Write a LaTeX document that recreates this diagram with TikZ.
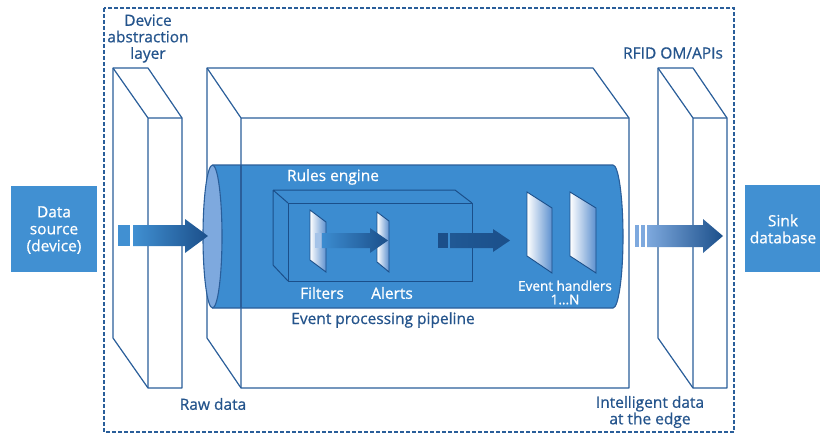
\documentclass[tikz,border=0pt]{standalone}
\usepackage{fontspec}
\setmainfont{Open Sans}[FakeBold=0.7]
\usetikzlibrary{shapes.geometric}
\definecolor{navy}{HTML}{24548C}
\definecolor{edge}{HTML}{2A5E9A}
\definecolor{boxblue}{HTML}{4190D2}
\definecolor{cylblue}{HTML}{3C8CD0}
\definecolor{ellblue}{HTML}{7EA9DE}
\definecolor{darkarrow}{HTML}{1B4F8A}
\definecolor{panelblue}{HTML}{5C90CF}
\tikzset{
  slab/.style={draw=edge, line width=1.2pt, fill=white, line join=round},
  lbl/.style={text=navy, font=\fontsize{15.5}{16.5}\selectfont, align=center, inner sep=0pt},
  wlbl/.style={text=white, font=\fontsize{15.5}{17}\selectfont, align=center, inner sep=0pt},
  slbl/.style={text=white, font=\fontsize{13.5}{13.5}\selectfont, align=center, inner sep=0pt},
  bluebox/.style={fill=boxblue, draw=none},
  panel/.style={draw=darkarrow, line width=0.9pt, left color=white, right color=panelblue},
}
\begin{document}
\begin{tikzpicture}[x=1pt,y=-1pt]
\useasboundingbox (0,0) rectangle (820,434);
% dashed frame
\draw[edge, line width=1.6pt, dash pattern=on 4pt off 2pt] (104,8) rectangle (734,432);
% left slab
\draw[slab] (113,68) -- (148,68) -- (182,118) -- (182,388) -- (148,388) -- (113,338) -- cycle;
\draw[edge, line width=1.2pt] (113,68) -- (148,118) -- (182,118) (148,118) -- (148,388);
% big box
\draw[slab] (207,68) -- (593,68) -- (629,118) -- (629,388) -- (241,388) -- (207,338) -- cycle;
\draw[edge, line width=1.2pt] (207,68) -- (241,118) -- (629,118) (241,118) -- (241,388);
% right slab
\draw[slab] (658,68) -- (693,68) -- (727,118) -- (727,388) -- (693,388) -- (658,338) -- cycle;
\draw[edge, line width=1.2pt] (658,68) -- (693,118) -- (727,118) (693,118) -- (693,388);
% cylinder
\fill[cylblue] (212.5,165) -- (613,165) .. controls (618.5,165) and (623,197) .. (623,236.5) .. controls (623,276) and (618.5,308) .. (613,308) -- (212.5,308) -- cycle;
\draw[edge, line width=1.1pt] (212.5,165) -- (613,165) .. controls (618.5,165) and (623,197) .. (623,236.5) .. controls (623,276) and (618.5,308) .. (613,308) -- (212.5,308);
\draw[edge, line width=1.1pt] (241,165) -- (241,308);
\node[ellipse, draw=edge, line width=1.1pt, fill=ellblue, minimum width=19pt, minimum height=143pt, inner sep=0pt] (ell) at (212.5,236.5) {};
% rules engine box
\draw[darkarrow, line width=1pt, line join=round] (273,190) -- (455,190) -- (472,203) (273,190) -- (273,265) -- (288,281) (273,190) -- (288,203);
\draw[darkarrow, line width=1pt] (288,203) rectangle (472,281);
% filters and alerts panels
\draw[panel] (310,210) -- (326,222) -- (326,272) -- (310,260) -- cycle;
\draw[panel] (377,212) -- (389,221) -- (389,272) -- (377,262) -- cycle;
\fill[ellblue!70!white] (315,233) rectangle (321,248);
\shade[left color=cylblue, right color=darkarrow] (322,233) -- (370,233) -- (370,228) -- (388,240.5) -- (370,253) -- (370,248) -- (322,248) -- cycle;
% middle arrow
\fill[darkarrow] (438,233) rectangle (448,248);
\shade[left color=darkarrow!85!cylblue, right color=darkarrow] (450,233) -- (493,233) -- (493,229) -- (510,240.5) -- (493,252) -- (493,248) -- (450,248) -- cycle;
% event handler panels
\draw[panel] (527,192) -- (552,208) -- (552,273) -- (527,256) -- cycle;
\draw[panel] (570,192) -- (596,208) -- (596,273) -- (570,256) -- cycle;
% left arrow
\fill[boxblue] (118,225) rectangle (130,246);
\shade[left color=boxblue, right color=darkarrow] (133,225) -- (185,225) -- (185,219) -- (208,236) -- (185,253) -- (185,246) -- (133,246) -- cycle;
% right arrow
\fill[ellblue] (635,225) rectangle (639,247);
\fill[ellblue] (641,225) rectangle (645,247);
\shade[left color=ellblue, right color=darkarrow] (647,225) -- (703,225) -- (703,219) -- (723,236) -- (703,253) -- (703,247) -- (647,247) -- cycle;
% external boxes
\fill[bluebox] (11,186) rectangle (97,272);
\fill[bluebox] (745,185) rectangle (822,272);
% labels
\node[wlbl] (src) at (54,230) {Data\\source\\(device)};
\node[wlbl] (sink) at (783,229) {Sink\\database};
\node[lbl] (dal) at (148,38.5) {Device\\abstraction\\layer};
\node[lbl] (rfid) at (673,53) {RFID OM/APIs};
\node[wlbl] (rules) at (333,177) {Rules engine};
\node[wlbl] (filt) at (322,293) {Filters};
\node[wlbl] (alrt) at (392,293) {Alerts};
\node[slbl] (evh) at (565,292.5) {Event handlers\\1...N};
\node[lbl] (epp) at (383,320) {Event processing pipeline};
\node[lbl] (raw) at (213,404) {Raw data};
\node[lbl] (intel) at (650,412) {Intelligent data\\at the edge};
\end{tikzpicture}
\end{document}
